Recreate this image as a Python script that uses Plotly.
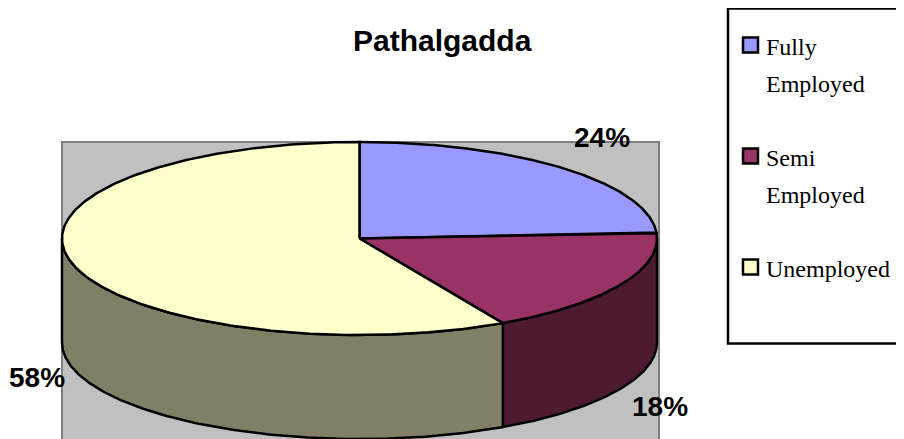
import numpy as np
import plotly.graph_objects as go

# ---- data ----
categories = ["Fully Employed", "Semi Employed", "Unemployed"]
values = [24, 18, 58]
title_text = "Pathalgadda"

# ---- styles ----
top_colors = ["#9999FF", "#993366", "#FFFFCC"]
side_colors = ["#4D4D80", "#4D1933", "#808066"]
label_pos = [(602, 137), (660, 406), (37, 377)]

# page body has an 8px margin; map axis units to page pixels
OFF = 8
W, H = 904, 439
cx, cy, rx, ry, depth = 359.5, 238.5, 297.5, 96.5, 104.0


def ell(theta_deg, dy=0.0):
    t = np.radians(theta_deg)
    return cx + rx * np.sin(t), cy - ry * np.cos(t) + dy


total = float(sum(values))
starts, ends = [], []
acc = 0.0
for v in values:
    starts.append(acc / total * 360.0)
    acc += v
    ends.append(acc / total * 360.0)

fig = go.Figure()

# side walls (visible front half: 90..270 deg)
for i, (a0, a1) in enumerate(zip(starts, ends)):
    s0, s1 = max(a0, 90.0), min(a1, 270.0)
    if s1 <= s0:
        continue
    th = np.linspace(s0, s1, 200)
    xt, yt = ell(th)
    xb, yb = ell(th[::-1], depth)
    xs = np.concatenate([xt, xb, xt[:1]])
    ys = np.concatenate([yt, yb, yt[:1]])
    fig.add_trace(go.Scatter(x=xs, y=ys, mode="lines", fill="toself",
                             fillcolor=side_colors[i],
                             line=dict(color="black", width=2.5),
                             hoverinfo="skip", showlegend=False))

# top faces
for i, (a0, a1) in enumerate(zip(starts, ends)):
    th = np.linspace(a0, a1, 300)
    xa, ya = ell(th)
    xs = np.concatenate([[cx], xa, [cx]])
    ys = np.concatenate([[cy], ya, [cy]])
    fig.add_trace(go.Scatter(x=xs, y=ys, mode="lines", fill="toself",
                             fillcolor=top_colors[i],
                             line=dict(color="black", width=2.5),
                             name=categories[i], hoverinfo="name",
                             showlegend=False))

shapes = [
    dict(type="rect", xref="x", yref="y", x0=62, x1=659, y0=142, y1=450,
         fillcolor="#C0C0C0", line=dict(color="#808080", width=2), layer="below"),
    dict(type="rect", xref="x", yref="y", x0=728, x1=915, y0=8.5, y1=343.5,
         fillcolor="white", line=dict(color="black", width=2.5), layer="below"),
]

annotations = [
    dict(x=442, y=40, xref="x", yref="y", text="<b>" + title_text + "</b>",
         showarrow=False, xanchor="center", yanchor="middle",
         font=dict(family="Liberation Sans, Arial", size=30, color="black")),
]

for i, v in enumerate(values):
    lx, ly = label_pos[i]
    annotations.append(dict(x=lx, y=ly, xref="x", yref="y",
                            text="<b>%d%%</b>" % v, showarrow=False,
                            xanchor="center", yanchor="middle",
                            font=dict(family="Liberation Sans, Arial", size=28,
                                      color="black")))

# legend built from categories
entry_y = [45, 156, 267]
for i, cat in enumerate(categories):
    yc = entry_y[i]
    shapes.append(dict(type="rect", xref="x", yref="y", x0=743, x1=758,
                       y0=yc - 7.5, y1=yc + 7.5, fillcolor=top_colors[i],
                       line=dict(color="black", width=2.5)))
    words = cat.split(" ")
    for j, w in enumerate(words):
        annotations.append(dict(x=764, y=yc + 2 + j * 37, xref="x", yref="y",
                                text=w, showarrow=False, xanchor="left",
                                yanchor="middle",
                                font=dict(family="Liberation Serif, Times New Roman",
                                          size=24, color="black")))

fig.update_layout(
    width=W - OFF, height=H - OFF,
    margin=dict(l=0, r=0, t=0, b=0),
    paper_bgcolor="white", plot_bgcolor="white",
    xaxis=dict(range=[OFF, W], visible=False, fixedrange=True),
    yaxis=dict(range=[H, OFF], visible=False, fixedrange=True),
    shapes=shapes, annotations=annotations, showlegend=False,
)

fig.write_html("out.html")
